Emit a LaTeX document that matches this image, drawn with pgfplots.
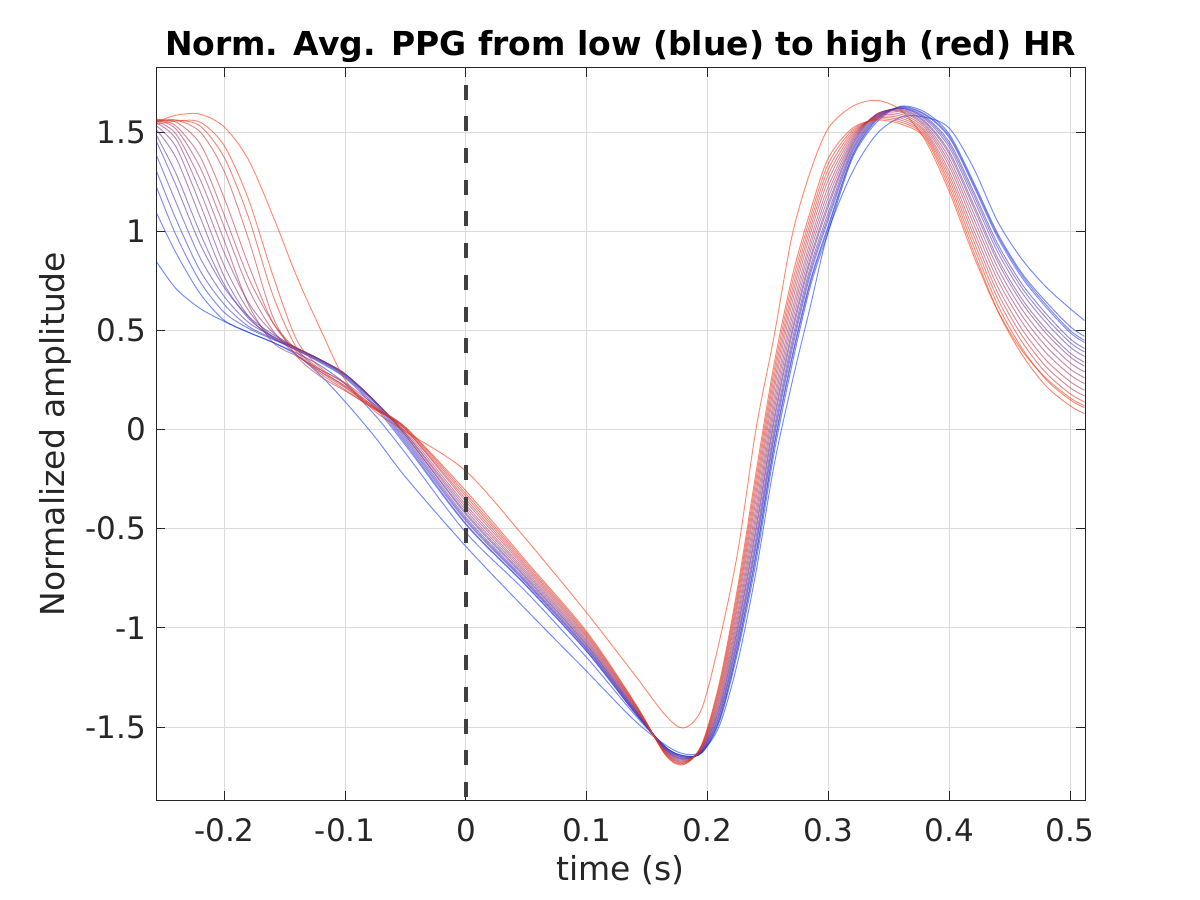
\documentclass[border=0pt]{standalone}
\usepackage{fontspec}
\setmainfont{DejaVu Sans}
\usepackage{pgfplots}
\usepackage{pgfplotstable}
\pgfplotsset{compat=1.18}
\definecolor{hrblue}{rgb}{0,0.2,1}
\definecolor{hrred}{rgb}{1,0.2,0}
\definecolor{axgray}{rgb}{0.15,0.15,0.15}
\pgfplotstableread{
x c0 c1 c2 c3 c4 c5 c6 c7 c8 c9 c10 c11 c12 c13 c14 c15 c16 c17
-0.256 0.845 1.09 1.22 1.30 1.38 1.45 1.48 1.51 1.53 1.545 1.555 1.56 1.565 1.56 1.555 1.55 1.54 1.55
-0.24 0.71 0.89 0.98 1.06 1.145 1.23 1.29 1.37 1.425 1.465 1.49 1.515 1.53 1.55 1.56 1.56 1.555 1.585
-0.22 0.61 0.685 0.745 0.80 0.865 0.935 0.99 1.07 1.135 1.20 1.26 1.32 1.375 1.44 1.50 1.53 1.55 1.59
-0.2 0.545 0.55 0.59 0.63 0.67 0.715 0.73 0.77 0.825 0.89 0.95 1.02 1.08 1.165 1.30 1.37 1.43 1.525
-0.18 0.49 0.49 0.51 0.52 0.54 0.57 0.56 0.57 0.60 0.64 0.63 0.71 0.765 0.83 0.96 1.07 1.16 1.36
-0.16 0.44 0.44 0.455 0.46 0.47 0.48 0.47 0.46 0.465 0.49 0.44 0.50 0.54 0.54 0.57 0.68 0.78 1.08
-0.14 0.375 0.385 0.40 0.40 0.405 0.41 0.41 0.41 0.41 0.41 0.37 0.375 0.40 0.39 0.37 0.41 0.45 0.77
-0.12 0.27 0.32 0.335 0.34 0.345 0.35 0.35 0.35 0.35 0.345 0.30 0.29 0.30 0.28 0.265 0.29 0.31 0.50
-0.1 0.14 0.23 0.26 0.265 0.27 0.275 0.28 0.28 0.28 0.275 0.235 0.22 0.215 0.20 0.195 0.21 0.23 0.25
-0.075 -0.04 0.07 0.11 0.12 0.13 0.135 0.14 0.14 0.14 0.14 0.12 0.11 0.105 0.10 0.10 0.105 0.11 0.09
-0.05 -0.24 -0.12 -0.08 -0.07 -0.06 -0.05 -0.04 -0.03 -0.03 -0.02 -0.02 -0.01 0.0 0.0 0.005 0.01 0.01 -0.01
0 -0.59 -0.52 -0.48 -0.475 -0.461 -0.453 -0.443 -0.429 -0.42 -0.407 -0.393 -0.38 -0.364 -0.351 -0.337 -0.324 -0.31 -0.21
0.05 -0.91 -0.82 -0.79 -0.786 -0.776 -0.77 -0.763 -0.753 -0.746 -0.736 -0.726 -0.716 -0.705 -0.695 -0.685 -0.675 -0.665 -0.555
0.1 -1.22 -1.15 -1.12 -1.117 -1.109 -1.104 -1.098 -1.09 -1.085 -1.077 -1.069 -1.061 -1.052 -1.044 -1.036 -1.028 -1.02 -0.925
0.14 -1.47 -1.44 -1.43 -1.43 -1.425 -1.422 -1.419 -1.415 -1.413 -1.409 -1.405 -1.40 -1.396 -1.392 -1.388 -1.384 -1.38 -1.24
0.165 -1.59 -1.60 -1.60 -1.601 -1.604 -1.606 -1.609 -1.612 -1.614 -1.617 -1.62 -1.624 -1.627 -1.63 -1.634 -1.637 -1.64 -1.44
0.18 -1.635 -1.645 -1.645 -1.646 -1.65 -1.652 -1.655 -1.659 -1.661 -1.664 -1.668 -1.672 -1.676 -1.679 -1.683 -1.686 -1.69 -1.505
0.195 -1.625 -1.632 -1.63 -1.629 -1.626 -1.624 -1.621 -1.618 -1.616 -1.613 -1.61 -1.606 -1.603 -1.60 -1.596 -1.593 -1.59 -1.41
0.21 -1.49 -1.47 -1.46 -1.454 -1.439 -1.43 -1.418 -1.403 -1.394 -1.378 -1.363 -1.348 -1.331 -1.316 -1.30 -1.285 -1.27 -1.06
0.225 -1.17 -1.12 -1.10 -1.09 -1.066 -1.05 -1.032 -1.007 -0.991 -0.967 -0.942 -0.917 -0.889 -0.864 -0.84 -0.815 -0.79 -0.615
0.24 -0.72 -0.67 -0.64 -0.627 -0.594 -0.573 -0.548 -0.514 -0.493 -0.459 -0.426 -0.392 -0.354 -0.321 -0.287 -0.254 -0.22 0.0
0.255 -0.18 -0.12 -0.09 -0.077 -0.044 -0.023 0.002 0.036 0.057 0.091 0.124 0.158 0.196 0.229 0.263 0.296 0.33 0.47
0.27 0.24 0.33 0.36 0.372 0.405 0.426 0.45 0.483 0.504 0.536 0.569 0.602 0.639 0.672 0.704 0.737 0.77 0.98
0.285 0.62 0.72 0.74 0.751 0.78 0.798 0.819 0.848 0.866 0.895 0.924 0.952 0.985 1.014 1.042 1.071 1.10 1.30
0.3 1.0 1.00 1.02 1.031 1.059 1.076 1.097 1.125 1.143 1.171 1.199 1.227 1.258 1.286 1.314 1.342 1.37 1.52
0.32 1.30 1.37 1.38 1.386 1.40 1.41 1.42 1.432 1.44 1.45 1.46 1.47 1.48 1.49 1.50 1.51 1.52 1.63
0.34 1.49 1.55 1.56 1.565 1.57 1.575 1.58 1.585 1.59 1.59 1.59 1.585 1.58 1.575 1.57 1.565 1.56 1.66
0.36 1.575 1.63 1.628 1.625 1.622 1.62 1.62 1.615 1.61 1.605 1.60 1.59 1.58 1.57 1.56 1.55 1.54 1.61
0.38 1.575 1.60 1.59 1.586 1.577 1.571 1.564 1.554 1.548 1.538 1.529 1.519 1.508 1.499 1.489 1.48 1.47 1.46
0.4 1.52 1.49 1.48 1.472 1.451 1.438 1.423 1.402 1.389 1.368 1.347 1.327 1.303 1.282 1.262 1.241 1.22 1.20
0.42 1.32 1.25 1.24 1.23 1.203 1.186 1.165 1.138 1.121 1.094 1.067 1.039 1.009 0.982 0.954 0.927 0.90 0.88
0.44 1.05 0.99 0.98 0.969 0.938 0.919 0.896 0.866 0.847 0.817 0.786 0.756 0.722 0.691 0.661 0.63 0.60 0.60
0.46 0.86 0.79 0.78 0.768 0.736 0.716 0.692 0.66 0.64 0.608 0.576 0.544 0.508 0.476 0.444 0.412 0.38 0.40
0.48 0.72 0.645 0.63 0.618 0.585 0.564 0.54 0.507 0.486 0.454 0.421 0.388 0.351 0.318 0.286 0.253 0.22 0.26
0.5 0.61 0.52 0.50 0.489 0.458 0.439 0.416 0.386 0.367 0.337 0.306 0.276 0.242 0.211 0.181 0.15 0.12 0.16
0.512 0.55 0.47 0.45 0.439 0.409 0.391 0.369 0.339 0.32 0.291 0.261 0.232 0.198 0.169 0.139 0.11 0.08 0.12
}\ppg
\begin{document}
\begin{tikzpicture}
\path[use as bounding box] (0,0) rectangle (600pt,450pt);
\begin{axis}[
  at={(78pt,50pt)}, anchor=south west,
  scale only axis, width=464.5pt, height=366pt,
  xmin=-0.2566, xmax=0.5124, ymin=-1.868, ymax=1.823,
  xtick={-0.2,-0.1,0,0.1,0.2,0.3,0.4,0.5},
  xticklabels={-0.2,-0.1,0,0.1,0.2,0.3,0.4,0.5},
  ytick={-1.5,-1,-0.5,0,0.5,1,1.5},
  yticklabels={-1.5,-1,-0.5,0,0.5,1,1.5},
  tick align=inside, major tick length=4.65pt,
  grid=major, major grid style={black!14, line width=0.5pt},
  axis line style={axgray, line width=0.5pt},
  tick style={axgray, line width=0.5pt},
  ticklabel style={font=\fontsize{15.5}{18}\selectfont, text=axgray},
  xticklabel style={yshift=-5.5pt},
  yticklabel style={xshift=-1.5pt},
  xlabel={time (s)}, ylabel={Normalized amplitude},
  label style={font=\fontsize{16.5}{20}\selectfont, text=axgray},
  xlabel style={at={(axis description cs:0.5,0)}, anchor=north, yshift=-24pt},
  title={Norm. Avg. PPG from low (blue) to high (red) HR},
  title style={font=\fontsize{16.5}{20}\selectfont\bfseries, yshift=-7pt},
  every axis plot/.append style={smooth, line width=0.5pt, draw opacity=0.55},
]
\addplot[hrred!0!hrblue] table[x=x,y=c0]{\ppg};
\addplot[hrred!6!hrblue] table[x=x,y=c1]{\ppg};
\addplot[hrred!12!hrblue] table[x=x,y=c2]{\ppg};
\addplot[hrred!18!hrblue] table[x=x,y=c3]{\ppg};
\addplot[hrred!24!hrblue] table[x=x,y=c4]{\ppg};
\addplot[hrred!29!hrblue] table[x=x,y=c5]{\ppg};
\addplot[hrred!35!hrblue] table[x=x,y=c6]{\ppg};
\addplot[hrred!41!hrblue] table[x=x,y=c7]{\ppg};
\addplot[hrred!47!hrblue] table[x=x,y=c8]{\ppg};
\addplot[hrred!53!hrblue] table[x=x,y=c9]{\ppg};
\addplot[hrred!59!hrblue] table[x=x,y=c10]{\ppg};
\addplot[hrred!65!hrblue] table[x=x,y=c11]{\ppg};
\addplot[hrred!71!hrblue] table[x=x,y=c12]{\ppg};
\addplot[hrred!76!hrblue] table[x=x,y=c13]{\ppg};
\addplot[hrred!82!hrblue] table[x=x,y=c14]{\ppg};
\addplot[hrred!88!hrblue] table[x=x,y=c15]{\ppg};
\addplot[hrred!94!hrblue] table[x=x,y=c16]{\ppg};
\addplot[hrred!100!hrblue] table[x=x,y=c17]{\ppg};
\addplot[black!75, line width=2.2pt, draw opacity=1, sharp plot, dash pattern=on 7.5pt off 8.35pt] coordinates {(0,-1.853) (0,1.823)};
\end{axis}
\end{tikzpicture}
\end{document}
